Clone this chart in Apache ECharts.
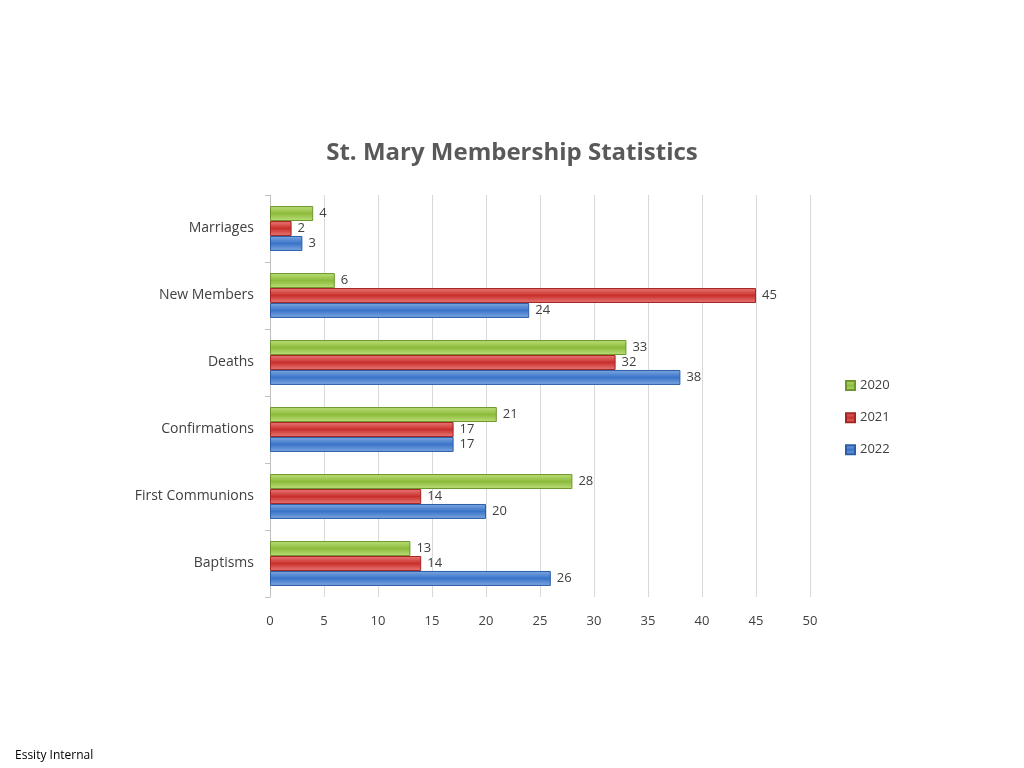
<!DOCTYPE html>
<html>
<head>
    <title>chart</title>
    <script src="https://cdn.jsdelivr.net/npm/echarts@6/dist/echarts.min.js"></script>
    <style>
        body { margin: 0; background: #fff; }
        #main { width: 1024px; height: 768px; }
    </style>
</head>
<body>
<div id="main"></div>
<script>
    // categories bottom to top (category axis starts at the bottom)
    var categories = ['Baptisms', 'First Communions', 'Confirmations', 'Deaths', 'New Members', 'Marriages'];
    var data2020 = [13, 28, 21, 33, 6, 4];
    var data2021 = [14, 14, 17, 32, 45, 2];
    var data2022 = [26, 20, 17, 38, 24, 3];

    function grad(light, dark) {
        return new echarts.graphic.LinearGradient(0, 0, 0, 1, [
            { offset: 0, color: light },
            { offset: 0.5, color: dark },
            { offset: 1, color: light }
        ]);
    }

    function bar(name, data, light, dark, border) {
        return {
            name: name,
            type: 'bar',
            data: data,
            barGap: '0%',
            barCategoryGap: '33%',
            itemStyle: { color: grad(light, dark), borderColor: border, borderWidth: 1 },
            label: { show: true, position: 'right', color: '#404040', fontSize: 13, fontFamily: 'Open Sans', distance: 6 }
        };
    }

    var chart = echarts.init(document.getElementById('main'));
    chart.setOption({
        animation: false,
        title: {
            text: 'St. Mary Membership Statistics',
            left: 'center', top: 126,
            textStyle: { color: '#595959', fontSize: 24, fontWeight: 'bold', fontFamily: 'Open Sans' }
        },
        graphic: [{
            type: 'text', left: 15, top: 746,
            style: { text: 'Essity Internal', fontSize: 12, fill: '#000', fontFamily: 'Open Sans' }
        }],
        legend: {
            data: ['2020', '2021', '2022'],
            orient: 'vertical',
            left: 840, top: 370,
            icon: 'rect',
            itemWidth: 9, itemHeight: 9, itemGap: 11,
            textStyle: { color: '#404040', fontSize: 13, fontFamily: 'Open Sans' }
        },
        grid: { left: 270, right: 214, top: 195, bottom: 171 },
        xAxis: {
            type: 'value', min: 0, max: 50, interval: 5,
            axisLine: { show: false }, axisTick: { show: false },
            axisLabel: { color: '#404040', fontSize: 13, fontFamily: 'Open Sans', margin: 14 },
            splitLine: { lineStyle: { color: '#d9d9d9' } }
        },
        yAxis: {
            type: 'category', data: categories,
            axisLine: { lineStyle: { color: '#bfbfbf' } },
            axisTick: { show: true, length: 5, lineStyle: { color: '#bfbfbf' } },
            axisLabel: { color: '#404040', fontSize: 14, fontFamily: 'Open Sans', margin: 16 }
        },
        series: [
            bar('2020', data2020, '#bde07a', '#8cbb3c', '#6f962c'),
            bar('2021', data2021, '#e87a78', '#c9302c', '#a52522'),
            bar('2022', data2022, '#7fa8e0', '#3a74c9', '#2c5ea8')
        ]
    });
</script>
</body>
</html>
